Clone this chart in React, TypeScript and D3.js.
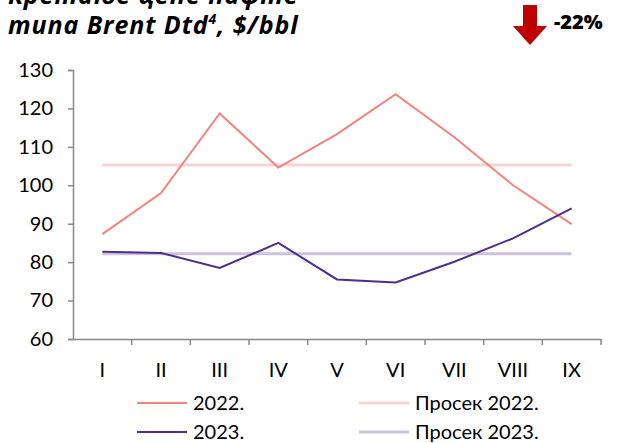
import React, { useEffect, useRef } from "react";
import * as d3 from "d3";

const months = ["I", "II", "III", "IV", "V", "VI", "VII", "VIII", "IX"];
const brent2022 = [87.3, 98.0, 118.7, 104.6, 113.3, 123.7, 112.5, 100.0, 89.9];
const brent2023 = [82.7, 82.4, 78.5, 85.0, 75.5, 74.7, 80.1, 86.2, 94.0];
const avg2022 = 105.3;
const avg2023 = 82.2;
const yTicks = [60, 70, 80, 90, 100, 110, 120, 130];
const legendLabels = ["2022.", "Просек 2022.", "2023.", "Просек 2023."];

const W = 623;
const H = 443;
const FONT = "Lato, 'Open Sans', sans-serif";
const BOLD_FONT = "'Open Sans', sans-serif";

export default function App() {
  const ref = useRef<SVGSVGElement>(null);

  useEffect(() => {
    const svg = d3.select(ref.current);
    svg.selectAll("*").remove();

    const left = 73, right = 601, top = 70, bottom = 339;

    const band = d3.scaleBand().domain(months).range([left, right]);
    const x = d3.scalePoint().domain(months).range([left, right]).padding(0.5);
    const y = d3.scaleLinear().domain([60, 130]).range([bottom, top]);

    // title (first line is cut off at the top, as in the source)
    const title = svg.append("g")
      .attr("font-family", BOLD_FONT)
      .attr("font-weight", "bold")
      .attr("font-style", "italic")
      .attr("font-size", 25)
      .attr("letter-spacing", 0.9)
      .attr("fill", "#000");
    title.append("text").attr("x", 8).attr("y", 4).text("Кретање цене нафте");
    const t2 = title.append("text").attr("x", 8).attr("y", 34);
    t2.append("tspan").text("типа Brent Dtd");
    t2.append("tspan").attr("dy", -10).attr("font-size", 14).text("4");
    t2.append("tspan").attr("dy", 10).text(", $/bbl");

    // red arrow + change
    svg.append("path")
      .attr("d", "M523,5 L537,5 L537,26 L547,26 L530,45 L513,26 L523,26 Z")
      .attr("fill", "#C00000");
    svg.append("text")
      .attr("x", 554).attr("y", 29)
      .attr("font-family", BOLD_FONT).attr("font-weight", 800)
      .attr("font-size", 20).attr("fill", "#000")
      .text("-22%");

    // y axis
    const ya = svg.append("g")
      .attr("transform", `translate(${left},0)`)
      .call(d3.axisLeft(y).tickValues(yTicks).tickSize(5).tickPadding(15));
    ya.select(".domain").attr("stroke", "#898989").attr("stroke-width", 1.5);
    ya.selectAll(".tick line").attr("stroke", "#898989").attr("stroke-width", 1.5);
    ya.selectAll(".tick text")
      .attr("font-family", FONT).attr("font-size", 20).attr("fill", "#000");

    // x axis: tick marks at band boundaries, labels centered
    const xa = svg.append("g")
      .attr("transform", `translate(0,${bottom})`)
      .call(d3.axisBottom(band).tickSize(0).tickPadding(24));
    xa.select(".domain").attr("stroke", "#898989").attr("stroke-width", 1.5);
    xa.selectAll(".tick text")
      .attr("font-family", FONT).attr("font-size", 20).attr("fill", "#000");
    svg.append("g").selectAll("line")
      .data(months)
      .join("line")
      .attr("x1", (d, i) => left + band.step() * (i + 1))
      .attr("x2", (d, i) => left + band.step() * (i + 1))
      .attr("y1", bottom).attr("y2", bottom + 6)
      .attr("stroke", "#898989").attr("stroke-width", 1.5);

    const first = x(months[0])!;
    const last = x(months[months.length - 1])!;

    // average lines
    svg.append("line")
      .attr("x1", first).attr("x2", last)
      .attr("y1", y(avg2022)).attr("y2", y(avg2022))
      .attr("stroke", "#FAD3D3").attr("stroke-width", 3);
    svg.append("line")
      .attr("x1", first).attr("x2", last)
      .attr("y1", y(avg2023)).attr("y2", y(avg2023))
      .attr("stroke", "#CDC1E0").attr("stroke-width", 3);

    const line = d3.line<number>()
      .x((d, i) => x(months[i])!)
      .y(d => y(d));

    svg.append("path").datum(brent2022)
      .attr("d", line).attr("fill", "none")
      .attr("stroke", "#F4827B").attr("stroke-width", 2);
    svg.append("path").datum(brent2023)
      .attr("d", line).attr("fill", "none")
      .attr("stroke", "#512C8A").attr("stroke-width", 2);

    // legend
    const legendColors = ["#F4827B", "#FAD3D3", "#512C8A", "#CDC1E0"];
    const legendWidths = [2, 3, 2, 3];
    const lx = [137, 359];
    const ly = [403, 432];
    const lg = svg.append("g").selectAll("g")
      .data(legendLabels)
      .join("g")
      .attr("transform", (d, i) => `translate(${lx[i % 2]},${ly[Math.floor(i / 2)]})`);
    lg.append("line")
      .attr("x1", 0).attr("x2", 50).attr("y1", 0).attr("y2", 0)
      .attr("stroke", (d, i) => legendColors[i])
      .attr("stroke-width", (d, i) => legendWidths[i]);
    lg.append("text")
      .attr("x", 56).attr("y", 7)
      .attr("font-family", FONT).attr("font-size", 20).attr("fill", "#000")
      .text(d => d);
  }, []);

  return (
    <svg
      ref={ref}
      width={W}
      height={H}
      style={{ position: "absolute", left: 0, top: 0, background: "#fff" }}
    />
  );
}
